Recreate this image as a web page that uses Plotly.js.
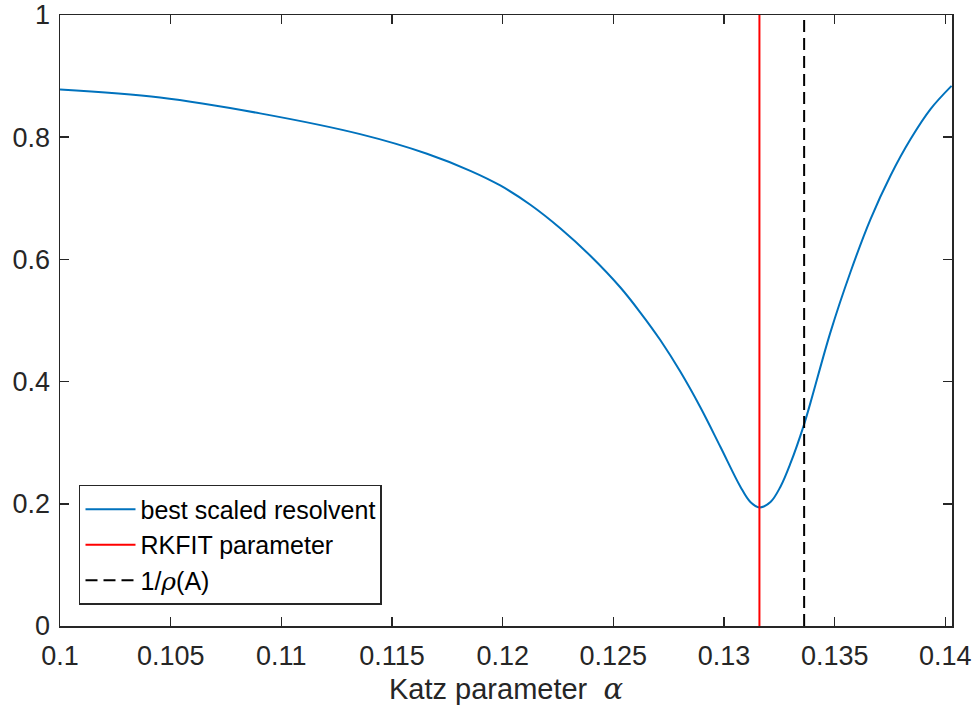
<!DOCTYPE html>
<html>
<head>
<meta charset="utf-8">
<script src="https://cdn.plot.ly/plotly-3.0.1.min.js"></script>
<style>html,body{margin:0;padding:0;background:#fff;}#chart{width:976px;height:715px;}</style>
</head>
<body>
<div id="chart"></div>
<script>
// Data
const alphaValues = [0.10000, 0.10452, 0.10904, 0.11356, 0.11658, 0.11854, 0.11989, 0.12125, 0.12260, 0.12396, 0.12532, 0.12622, 0.12712, 0.12803, 0.12893, 0.12984, 0.13074, 0.13119, 0.13160, 0.13210, 0.13255, 0.13300, 0.13360, 0.13391, 0.13481, 0.13571, 0.13662, 0.13752, 0.13843, 0.13933, 0.14028];
const resolventValues = [0.878, 0.865, 0.839, 0.805, 0.773, 0.745, 0.721, 0.6895, 0.651, 0.606, 0.554, 0.513, 0.468, 0.416, 0.358, 0.293, 0.228, 0.203, 0.194, 0.203, 0.228, 0.266, 0.328, 0.366, 0.481, 0.579, 0.666, 0.737, 0.797, 0.846, 0.884];
const rkfitAlpha = 0.1316;
const invSpectralRadius = 0.13362;
const xRange = [0.1, 0.1403];
const yRange = [0, 1];
const xTickVals = [0.1, 0.105, 0.11, 0.115, 0.12, 0.125, 0.13, 0.135, 0.14];
const xTickText = ["0.1", "0.105", "0.11", "0.115", "0.12", "0.125", "0.13", "0.135", "0.14"];
const yTickVals = [0, 0.2, 0.4, 0.6, 0.8, 1];
const yTickText = ["0", "0.2", "0.4", "0.6", "0.8", "1"];
const seriesNames = ["best scaled resolvent", "RKFIT parameter", "1/<span style=\"font-family:'DejaVu Serif',serif;font-style:italic\">ρ</span>(A)"];

const txt = '#262626';
const sans = 'Liberation Sans, Arial, sans-serif';
const traces = [
  {x: alphaValues, y: resolventValues, type: 'scatter', mode: 'lines', name: seriesNames[0],
   line: {color: '#0072BD', width: 2, shape: 'spline', smoothing: 1}},
  {x: [rkfitAlpha, rkfitAlpha], y: yRange, type: 'scatter', mode: 'lines', name: seriesNames[1],
   line: {color: '#FF0000', width: 2}},
  {x: [invSpectralRadius, invSpectralRadius], y: yRange, type: 'scatter', mode: 'lines', name: seriesNames[2],
   line: {color: '#000000', width: 2, dash: '12px,6px'}}
];

const axisCommon = {
  showgrid: false, zeroline: false, showline: true, mirror: 'ticks',
  linecolor: txt, linewidth: 1.5, ticks: 'inside', ticklen: 9, tickwidth: 1.5, tickcolor: txt,
  tickfont: {family: sans, size: 27, color: txt}
};

const layout = {
  width: 976, height: 715,
  margin: {l: 60, r: 24, t: 15, b: 89},
  paper_bgcolor: '#fff', plot_bgcolor: '#fff',
  xaxis: Object.assign({}, axisCommon, {
    range: xRange, tickmode: 'array', tickvals: xTickVals, ticktext: xTickText,
    ticklabelstandoff: 5,
    title: {text: "Katz parameter  <span style=\"font-family:'DejaVu Serif',serif;font-style:italic\">α</span>",
            font: {family: sans, size: 29, color: txt}, standoff: 9}
  }),
  yaxis: Object.assign({}, axisCommon, {
    range: yRange, tickmode: 'array', tickvals: yTickVals, ticktext: yTickText,
    ticklabelstandoff: 3
  }),
  showlegend: true,
  legend: {
    x: 0.0213, y: 0.0344, xanchor: 'left', yanchor: 'bottom',
    bgcolor: '#fff', bordercolor: txt, borderwidth: 1.5,
    font: {family: sans, size: 25, color: '#000'},
    itemwidth: 50,
    tracegroupgap: 0
  }
};

Plotly.newPlot('chart', traces, layout, {staticPlot: true, displayModeBar: false});
</script>
</body>
</html>
